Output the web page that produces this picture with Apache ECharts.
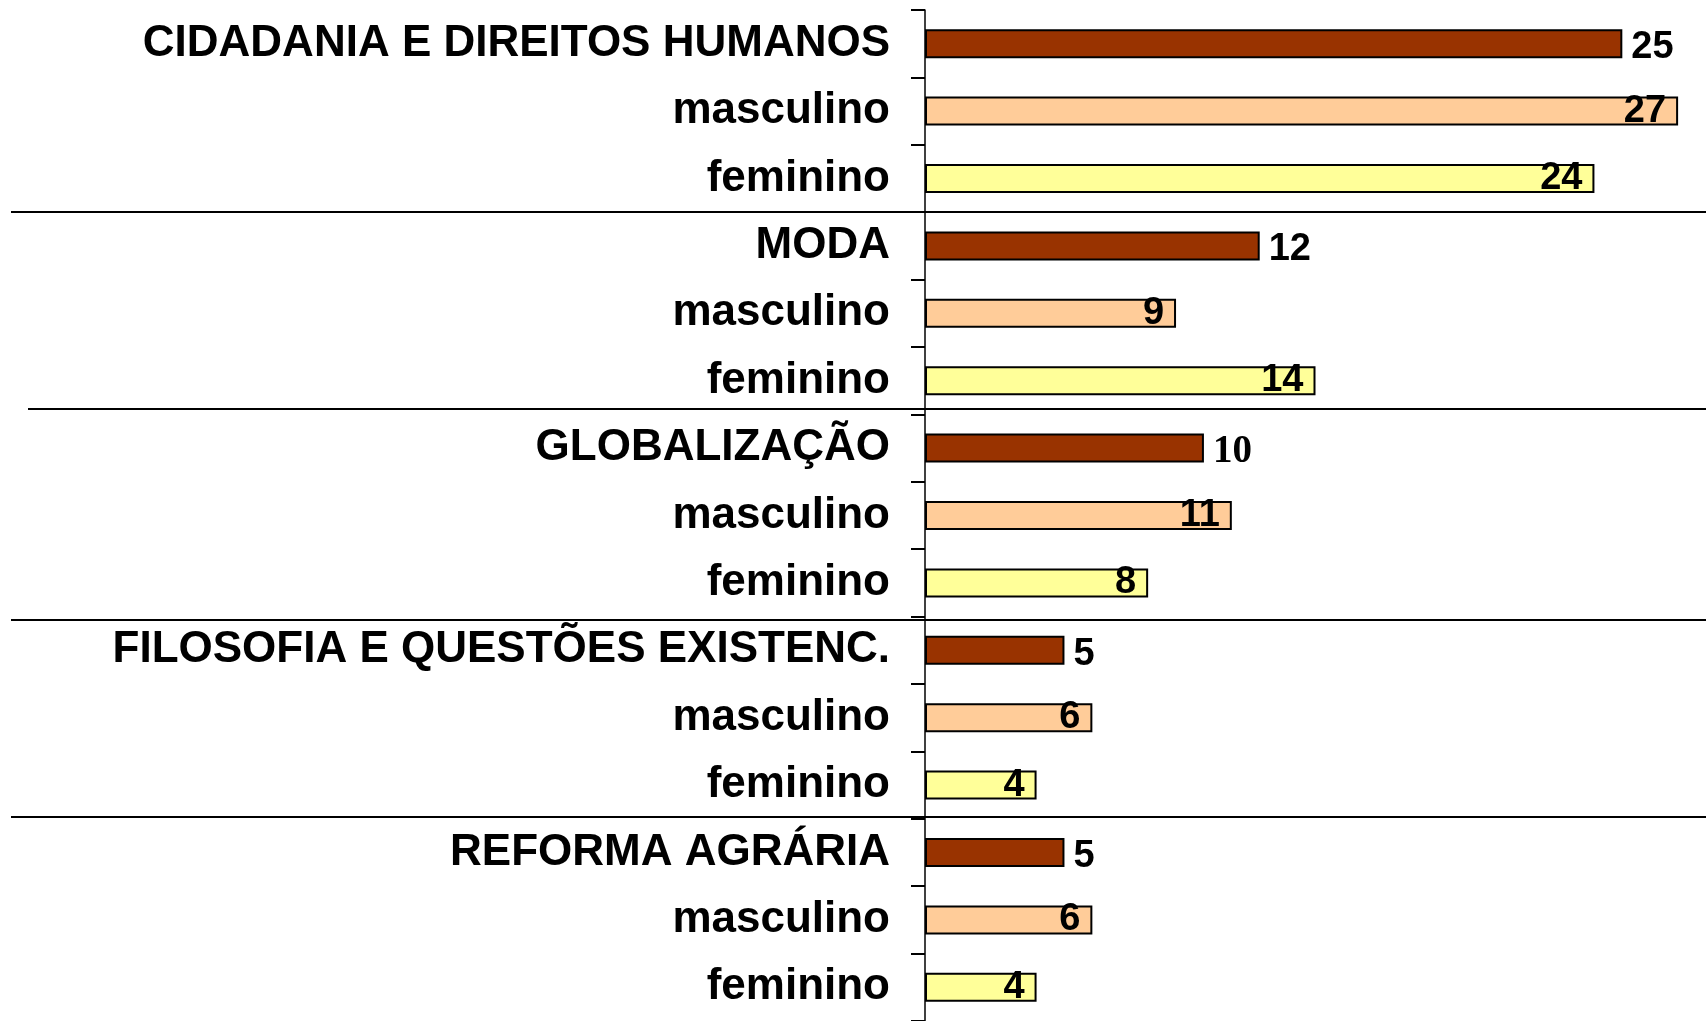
<!DOCTYPE html>
<html>
<head>
<meta charset="utf-8">
<script src="https://cdn.jsdelivr.net/npm/echarts@6/dist/echarts.min.js"></script>
<style>
  html, body { margin: 0; padding: 0; background: #fff; }
  #chart { width: 1706px; height: 1021px; }
</style>
</head>
<body>
<div id="chart"></div>
<script>
// ---- data ----
var groups = ['CIDADANIA E DIREITOS HUMANOS', 'MODA', 'GLOBALIZAÇÃO', 'FILOSOFIA E QUESTÕES EXISTENC.', 'REFORMA AGRÁRIA'];
var subLabels = ['masculino', 'feminino'];
var totalValues = [25, 12, 10, 5, 5];
var masculinoValues = [27, 9, 11, 6, 6];
var femininoValues = [24, 14, 8, 4, 4];

// ---- style constants ----
var COLORS = { total: '#993300', masculino: '#FFCC99', feminino: '#FFFF99' };
var serifLabelGroups = [2]; // value label drawn in a serif face in the original
var separatorStartX = [11, 28, 11, 11];
var separatorNudge = [0, -5, 3, -2];

// ---- build categories & series data ----
var categories = [];
var totalData = [], mascData = [], femData = [];
groups.forEach(function (g, i) {
  categories.push(g, subLabels[0], subLabels[1]);
  var t = { value: totalValues[i] };
  if (serifLabelGroups.indexOf(i) >= 0) {
    t.label = { fontFamily: 'Liberation Serif', fontSize: 39, offset: [0, 4] };
  }
  totalData.push(t, null, null);
  mascData.push(null, masculinoValues[i], null);
  femData.push(null, null, femininoValues[i]);
});

var chart = echarts.init(document.getElementById('chart'), null, { renderer: 'canvas' });

function mkSeries(name, data, color, labelPos, dist, offset) {
  return {
    type: 'bar',
    name: name,
    data: data,
    barWidth: 29,
    barGap: '-100%',
    animation: false,
    itemStyle: { color: color, borderColor: '#000', borderWidth: 2 },
    label: {
      show: true,
      position: labelPos,
      distance: dist,
      offset: offset,
      color: '#000',
      fontFamily: 'Liberation Sans',
      fontWeight: 'bold',
      fontSize: 38
    }
  };
}

chart.setOption({
  animation: false,
  backgroundColor: '#fff',
  grid: { left: 925, right: 0, top: 10, bottom: 0, containLabel: false },
  xAxis: {
    type: 'value', min: 0, max: 28,
    show: false,
    splitLine: { show: false }
  },
  yAxis: {
    type: 'category',
    inverse: true,
    data: categories,
    axisLine: { show: true, lineStyle: { color: '#000', width: 1.5 } },
    axisTick: { show: true, inside: false, length: 14, lineStyle: { color: '#000', width: 2 } },
    axisLabel: {
      margin: 35,
      color: '#000',
      fontFamily: 'Liberation Sans',
      fontWeight: 'bold',
      fontSize: 44,
      padding: [5, 0, 0, 0]
    }
  },
  series: [
    mkSeries('total', totalData, COLORS.total, 'right', 9, [0, 4]),
    mkSeries('masculino', mascData, COLORS.masculino, 'insideRight', 12, [0, 0]),
    mkSeries('feminino', femData, COLORS.feminino, 'insideRight', 12, [0, 0])
  ]
});

// ---- group separators at category boundaries ----
var graphics = [];
for (var g = 0; g < groups.length - 1; g++) {
  var a = chart.convertToPixel({ yAxisIndex: 0 }, g * 3 + 2);
  var b = chart.convertToPixel({ yAxisIndex: 0 }, g * 3 + 3);
  var y = Math.round((a + b) / 2) + separatorNudge[g];
  graphics.push({
    type: 'line',
    shape: { x1: separatorStartX[g], y1: y, x2: 1706, y2: y },
    style: { stroke: '#000', lineWidth: 2 },
    z: 10
  });
}
chart.setOption({ graphic: graphics });
</script>
</body>
</html>
